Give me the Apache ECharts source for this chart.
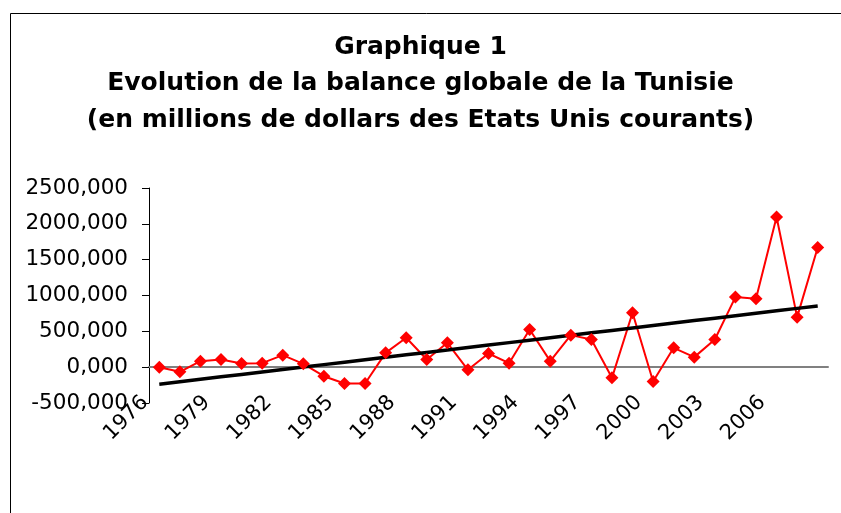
<html>
<head>
    <meta charset="utf-8">
    <title>Graphique 1</title>
    <script src="https://cdn.jsdelivr.net/npm/echarts@6/dist/echarts.min.js"></script>
    <style>
        html, body { margin: 0; padding: 0; background: #fff; overflow: hidden; }
        #main { width: 841px; height: 513px; }
    </style>
</head>
<body>
<div id="main"></div>
<script>
    // données
    var annees = ['1976', '1977', '1978', '1979', '1980', '1981', '1982', '1983', '1984', '1985',
        '1986', '1987', '1988', '1989', '1990', '1991', '1992', '1993', '1994', '1995', '1996',
        '1997', '1998', '1999', '2000', '2001', '2002', '2003', '2004', '2005', '2006', '2007', '2008'];
    var balance = [0, -65, 84, 107, 51, 56, 168, 47, -126, -228, -228, 200, 410, 107, 340, -37,
        191, 56, 526, 84, 447, 386, -149, 759, -200, 270, 140, 386, 978, 954, 2095, 698, 1671];
    var titre = ['Graphique 1', 'Evolution de la balance globale de la Tunisie',
        '(en millions de dollars des Etats Unis courants)'];

    // tendance linéaire (moindres carrés)
    function tendance(vals) {
        var n = vals.length, sx = 0, sy = 0, sxy = 0, sxx = 0;
        for (var i = 0; i < n; i++) {
            sx += i; sy += vals[i]; sxy += i * vals[i]; sxx += i * i;
        }
        var b = (n * sxy - sx * sy) / (n * sxx - sx * sx);
        var a = (sy - b * sx) / n;
        return vals.map(function (v, i) { return +(a + b * i).toFixed(2); });
    }

    var myChart = echarts.init(document.getElementById('main'));
    var police = 'DejaVu Sans';

    var option = {
        animation: false,
        backgroundColor: '#fff',
        graphic: [{
            type: 'rect',
            shape: { x: 10.5, y: 13.5, width: 900, height: 600 },
            style: { fill: 'none', stroke: '#000', lineWidth: 1 },
            silent: true
        }],
        title: {
            text: titre.join('\n'),
            left: 'center',
            top: 29,
            padding: 0,
            textStyle: {
                fontFamily: police,
                fontWeight: 'bold',
                fontSize: 25,
                lineHeight: 36.5,
                color: '#000'
            }
        },
        grid: { left: 149, top: 188, width: 679, height: 215 },
        xAxis: {
            type: 'category',
            data: annees,
            boundaryGap: true,
            axisLine: { onZero: true, lineStyle: { color: '#808080', width: 2 } },
            axisTick: { interval: 0, length: 6, lineStyle: { color: '#000' } },
            axisLabel: {
                interval: 2,
                rotate: 45,
                margin: -18,
                padding: [0, 20, 0, 0],
                fontFamily: police,
                fontSize: 21,
                color: '#000'
            },
            splitLine: { show: false }
        },
        yAxis: {
            type: 'value',
            min: -500,
            max: 2500,
            interval: 500,
            axisLine: { show: true, lineStyle: { color: '#000' } },
            axisTick: { show: true, length: 7, lineStyle: { color: '#000' } },
            axisLabel: {
                margin: 21,
                fontFamily: police,
                fontSize: 21.5,
                color: '#000',
                formatter: function (v) { return v.toFixed(3).replace('.', ','); }
            },
            splitLine: { show: false }
        },
        series: [{
            name: 'Balance globale',
            type: 'line',
            data: balance,
            symbol: 'diamond',
            symbolSize: 13,
            itemStyle: { color: '#ff0000' },
            lineStyle: { color: '#ff0000', width: 2 }
        }, {
            name: 'Tendance',
            type: 'line',
            data: tendance(balance),
            symbol: 'none',
            lineStyle: { color: '#000', width: 3.5 }
        }]
    };

    myChart.setOption(option);
</script>
</body>
</html>
